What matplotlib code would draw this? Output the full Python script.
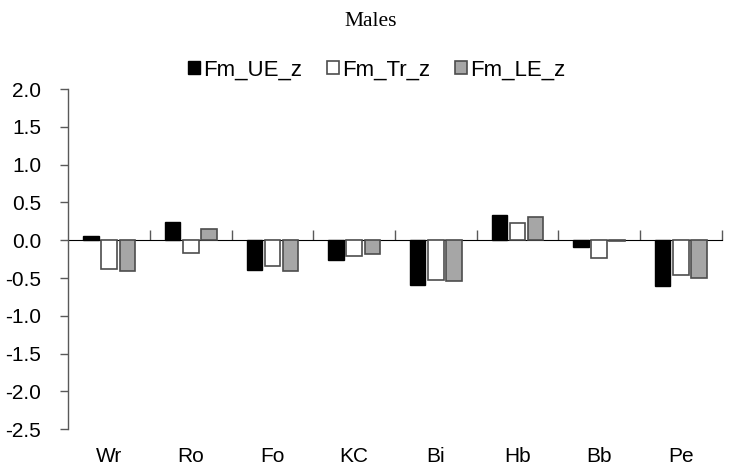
import numpy as np
import matplotlib
matplotlib.use("Agg")
import matplotlib.pyplot as plt
from matplotlib.ticker import FormatStrFormatter

plt.rcParams['font.family'] = ['Liberation Sans', 'DejaVu Sans']
plt.rcParams['axes.unicode_minus'] = False

# data
categories = ['Wr', 'Ro', 'Fo', 'KC', 'Bi', 'Hb', 'Bb', 'Pe']
fm_ue_z = [0.05, 0.24, -0.39, -0.26, -0.59, 0.34, -0.09, -0.60]
fm_tr_z = [-0.38, -0.165, -0.34, -0.21, -0.53, 0.23, -0.23, -0.46]
fm_le_z = [-0.40, 0.15, -0.40, -0.18, -0.54, 0.31, -0.01, -0.50]
series_names = ['Fm_UE_z', 'Fm_Tr_z', 'Fm_LE_z']

axcol = '#595959'
edge = '#4d4d4d'

fig = plt.figure(figsize=(7.34, 4.76), dpi=100)
ax = fig.add_axes([0.0931, 0.0981, 0.890, 0.7149])

x = np.arange(len(categories))
w = 0.19
off = 0.222
ax.bar(x - off, fm_ue_z, w, color='black', edgecolor='black', linewidth=1.0, label=series_names[0])
ax.bar(x, fm_tr_z, w, color='white', edgecolor=edge, linewidth=1.2, label=series_names[1])
ax.bar(x + off, fm_le_z, w, color='#a6a6a6', edgecolor=edge, linewidth=1.2, label=series_names[2])

ax.set_xlim(-0.5, len(categories) - 0.5)
ax.set_ylim(-2.5, 2.0)
ax.set_yticks(np.arange(-2.5, 2.01, 0.5))
ax.yaxis.set_major_formatter(FormatStrFormatter('%.1f'))
ax.tick_params(axis='y', direction='out', length=5.5, width=1, color=axcol,
               labelsize=15, pad=14)

# category labels along the bottom, no bottom spine
ax.set_xticks(x)
ax.set_xticklabels(categories)
ax.tick_params(axis='x', length=0, labelsize=15, pad=13)

for s in ['top', 'right', 'bottom']:
    ax.spines[s].set_visible(False)
ax.spines['left'].set_color(axcol)
ax.spines['left'].set_linewidth(1)

# zero line with category divider ticks
zero_frac = 2.5 / 4.5
sec = ax.secondary_xaxis(zero_frac)
sec.set_xticks(np.arange(0.5, len(categories), 1.0))
sec.set_xticklabels([])
sec.tick_params(axis='x', direction='out', length=7, width=1, color=axcol)
sec.spines['bottom'].set_color(axcol)
sec.spines['bottom'].set_linewidth(1)

fig.legend(loc='center', bbox_to_anchor=(0.513, 1 - 70 / 476), ncol=3, frameon=False,
           fontsize=16, handlelength=0.55, handleheight=0.55, handletextpad=0.15,
           columnspacing=1.1)

fig.text(0.505, 1 - 22 / 476, 'Males', ha='center', va='center',
         family=['Liberation Serif', 'DejaVu Serif'], fontsize=15.5)

fig.savefig('out.png', dpi=100)
